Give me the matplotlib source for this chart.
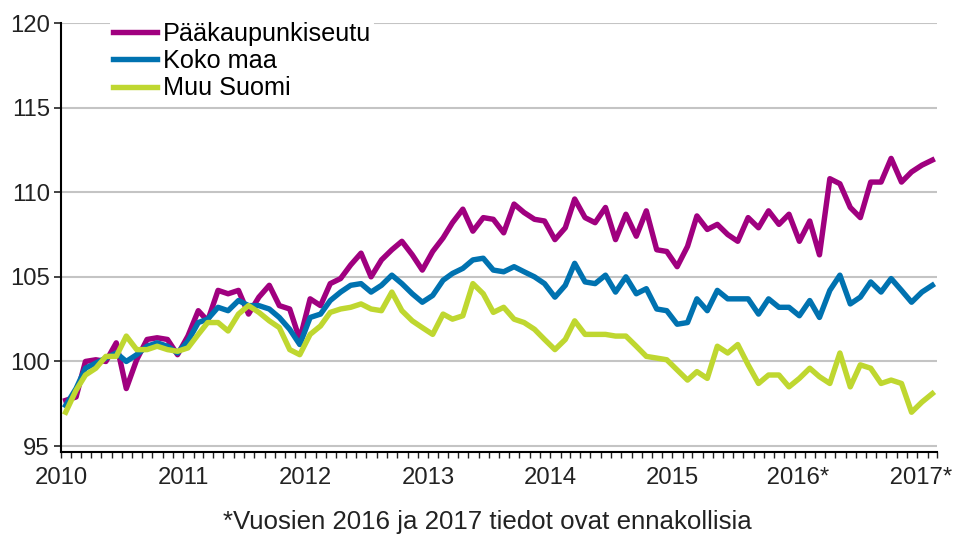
import matplotlib.pyplot as plt
import matplotlib.dates as mdates
import numpy as np
import pandas as pd

plt.rcParams['font.family'] = ['Liberation Sans', 'DejaVu Sans']

# monthly index 2010M01 - 2017M02, plotted at mid-month
months = pd.date_range("2010-01-01", "2017-02-01", freq="MS") + pd.Timedelta(days=14)

paakaupunkiseutu = [
    97.7, 97.9, 100.0, 100.1, 100.0, 101.1, 98.4, 100.1, 101.3, 101.4, 101.3, 100.4,
    101.5, 103.0, 102.4, 104.2, 104.0, 104.2, 102.8, 103.8, 104.5, 103.3, 103.1, 101.3,
    103.7, 103.3, 104.6, 104.9, 105.7, 106.4, 105.0, 106.0, 106.6, 107.1, 106.3, 105.4,
    106.5, 107.3, 108.2, 109.0, 107.7, 108.5, 108.4, 107.6, 109.3, 108.8, 108.4, 108.3,
    107.2, 107.9, 109.6, 108.5, 108.2, 109.1, 107.2, 108.7, 107.4, 108.9, 106.6, 106.5,
    105.6, 106.8, 108.6, 107.8, 108.1, 107.5, 107.1, 108.5, 107.9, 108.9, 108.1, 108.7,
    107.1, 108.3, 106.3, 110.8, 110.5, 109.1, 108.5, 110.6, 110.6, 112.0, 110.6, 111.2,
    111.6, 111.9,
]
koko_maa = [
    97.4, 98.4, 99.6, 99.9, 100.2, 100.5, 100.0, 100.4, 100.9, 101.1, 100.9, 100.5,
    101.2, 102.3, 102.5, 103.2, 103.0, 103.6, 103.3, 103.3, 103.1, 102.6, 101.9, 101.0,
    102.6, 102.8, 103.6, 104.1, 104.5, 104.6, 104.1, 104.5, 105.1, 104.6, 104.0, 103.5,
    103.9, 104.8, 105.2, 105.5, 106.0, 106.1, 105.4, 105.3, 105.6, 105.3, 105.0, 104.6,
    103.8, 104.5, 105.8, 104.7, 104.6, 105.1, 104.1, 105.0, 104.0, 104.3, 103.1, 103.0,
    102.2, 102.3, 103.7, 103.0, 104.2, 103.7, 103.7, 103.7, 102.8, 103.7, 103.2, 103.2,
    102.7, 103.6, 102.6, 104.2, 105.1, 103.4, 103.8, 104.7, 104.1, 104.9, 104.2, 103.5,
    104.1, 104.5,
]
muu_suomi = [
    97.0, 98.3, 99.2, 99.6, 100.3, 100.3, 101.5, 100.7, 100.7, 100.9, 100.7, 100.6,
    100.8, 101.6, 102.3, 102.3, 101.8, 102.8, 103.3, 102.9, 102.4, 102.0, 100.7, 100.4,
    101.6, 102.1, 102.9, 103.1, 103.2, 103.4, 103.1, 103.0, 104.1, 103.0, 102.4, 102.0,
    101.6, 102.8, 102.5, 102.7, 104.6, 104.0, 102.9, 103.2, 102.5, 102.3, 101.9, 101.3,
    100.7, 101.3, 102.4, 101.6, 101.6, 101.6, 101.5, 101.5, 100.9, 100.3, 100.2, 100.1,
    99.5, 98.9, 99.4, 99.0, 100.9, 100.5, 101.0, 99.8, 98.7, 99.2, 99.2, 98.5,
    99.0, 99.6, 99.1, 98.7, 100.5, 98.5, 99.8, 99.6, 98.7, 98.9, 98.7, 97.0,
    97.6, 98.1,
]

series = [
    ("Pääkaupunkiseutu", paakaupunkiseutu, "#a0007f"),
    ("Koko maa", koko_maa, "#0072b0"),
    ("Muu Suomi", muu_suomi, "#bfd730"),
]
year_labels = ["2010", "2011", "2012", "2013", "2014", "2015", " 2016*", " 2017*"]

fig = plt.figure(figsize=(9.56, 5.36), dpi=100)
ax = fig.add_axes([61 / 956, 84 / 536, 876 / 956, 429 / 536])

for name, vals, col in series:
    ax.plot(months, vals, color=col, lw=3.9, label=name, solid_joinstyle="round")

ax.set_ylim(94.65, 120)
ax.set_yticks(np.arange(95, 121, 5))
ax.set_xlim(pd.Timestamp("2010-01-01"), pd.Timestamp("2017-03-01"))
ax.xaxis.set_major_locator(mdates.YearLocator())
ax.xaxis.set_minor_locator(mdates.MonthLocator())
ax.set_xticklabels(year_labels)

ax.grid(axis="y", color="#c4c4c4", lw=1.5)
ax.set_axisbelow(True)
for s in ["top", "right"]:
    ax.spines[s].set_visible(False)
for s in ["left", "bottom"]:
    ax.spines[s].set_linewidth(1.5)
ax.tick_params(axis="y", direction="out", length=5, width=1.2, pad=3, labelsize=17.2, colors="#222222")
ax.tick_params(axis="x", which="both", direction="out", length=4.5, width=1, pad=6, labelsize=17.2, colors="#222222")

leg = ax.legend(loc="upper left", bbox_to_anchor=(0.042, 1.038), frameon=True, fontsize=18.2,
                handlelength=1.73, handletextpad=0.24, labelspacing=0.13, borderpad=0.1)
leg.get_frame().set_edgecolor("none")
leg.get_frame().set_facecolor("white")
leg.get_frame().set_alpha(1)

fig.text(487 / 956, 1 - 522 / 536, "*Vuosien 2016 ja 2017 tiedot ovat ennakollisia",
         ha="center", va="center", fontsize=18.6, color="#222222")

plt.savefig("out.png", dpi=100)
